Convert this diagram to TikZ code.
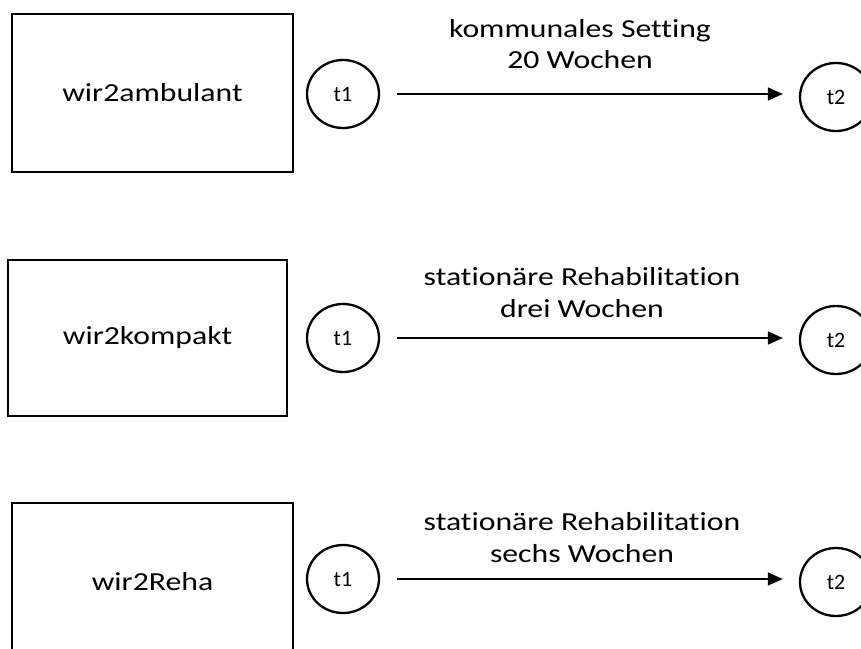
\documentclass[tikz,border=0pt]{standalone}
\usepackage{fontspec}
\setmainfont{Carlito}[Ligatures=NoCommon]
\newfontfamily\widefont[FakeStretch=1.22,Ligatures=NoCommon]{Carlito}
\usetikzlibrary{arrows.meta,shapes.geometric}
\begin{document}
\begin{tikzpicture}[x=1pt,y=-1pt,
  boxst/.style={draw=black,line width=2.8pt,inner sep=0pt,font=\widefont\fontsize{26}{31}\selectfont},
  tnode/.style={draw=black,line width=2.3pt,ellipse,inner sep=0pt,minimum width=72pt,minimum height=68pt,font=\fontsize{22}{26}\selectfont},
  lab/.style={anchor=base,inner sep=0pt,font=\widefont\fontsize{26}{31}\selectfont},
  arr/.style={line width=1.4pt,-{Triangle[length=15pt,width=13pt]}}]
\useasboundingbox (0,0) rectangle (861,648);
% row 1
\node[boxst,minimum width=281pt,minimum height=158pt] (b1) at (152.5,93) {wir2ambulant};
\node[tnode] (a1) at (343,94) {t1};
\node[tnode] (c1) at (836,97) {t2};
\node[lab] (l1a) at (580,37) {kommunales Setting};
\node[lab] (l1b) at (580,68) {20 Wochen};
\draw[arr,shorten <=17pt,shorten >=16pt] (a1.east) -- (a1.east -| c1.west);
% row 2
\node[boxst,minimum width=279pt,minimum height=156pt] (b2) at (147.5,338) {wir2kompakt};
\node[tnode] (a2) at (343,338) {t1};
\node[tnode] (c2) at (836,340) {t2};
\node[lab] (l2a) at (582,285) {stationäre Rehabilitation};
\node[lab] (l2b) at (582,317) {drei Wochen};
\draw[arr,shorten <=17pt,shorten >=16pt] (a2.east) -- (a2.east -| c2.west);
% row 3
\node[boxst,minimum width=281pt,minimum height=158pt] (b3) at (152.5,582) {wir2Reha};
\node[tnode] (a3) at (343,579) {t1};
\node[tnode] (c3) at (836,582) {t2};
\node[lab] (l3a) at (582,530) {stationäre Rehabilitation};
\node[lab] (l3b) at (582,562) {sechs Wochen};
\draw[arr,shorten <=17pt,shorten >=16pt] (a3.east) -- (a3.east -| c3.west);
\end{tikzpicture}
\end{document}
